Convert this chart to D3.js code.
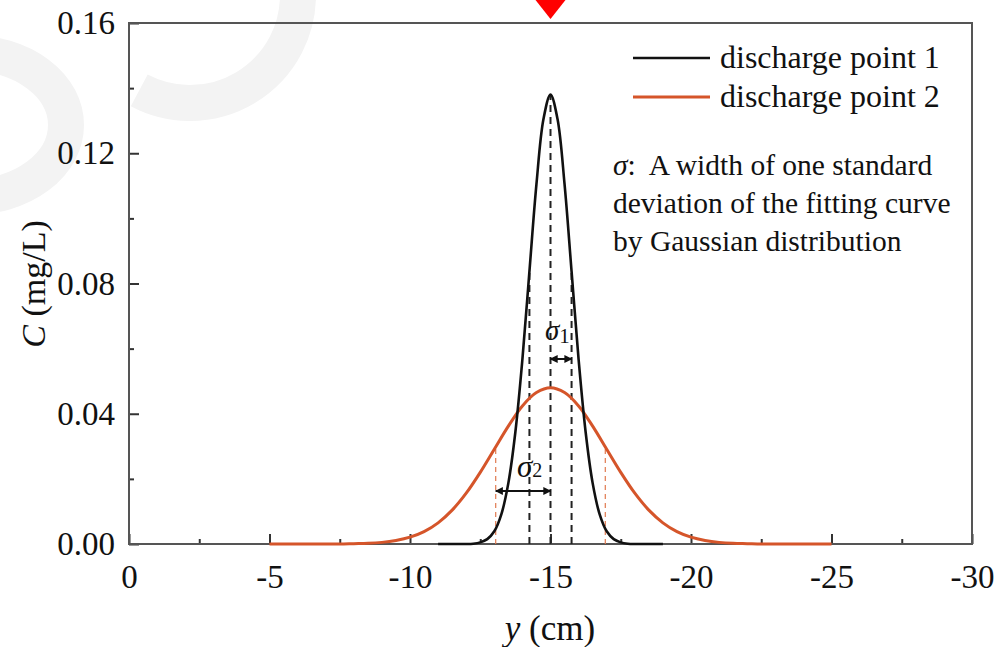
<!DOCTYPE html>
<html>
<head>
<meta charset="utf-8">
<script src="https://cdn.jsdelivr.net/npm/d3@7"></script>
<style>
  html, body { margin: 0; padding: 0; background: #fff; }
  svg { display: block; }
  text { font-family: "Liberation Serif", "Times New Roman", serif; fill: #111; }
</style>
</head>
<body>
<div id="chart"></div>
<script>
// y position (cm) and concentration (mg/L)
const yPos1 = [-11, -11.25, -11.5, -11.75, -12, -12.25, -12.5, -12.75, -13, -13.25, -13.5, -13.75, -14, -14.25, -14.5, -14.75,
  -15, -15.25, -15.5, -15.75, -16, -16.25, -16.5, -16.75, -17, -17.25, -17.5, -17.75, -18, -18.25, -18.5, -18.75, -19];
const conc1 = [0, 0, 0, 0, 0, 0.0001, 0.0005, 0.0015, 0.0039, 0.0091, 0.0187, 0.0344, 0.0567, 0.0837, 0.1105, 0.1305,
  0.138, 0.1305, 0.1105, 0.0837, 0.0567, 0.0344, 0.0187, 0.0091, 0.0039, 0.0015, 0.0005, 0.0001, 0, 0, 0, 0, 0];

const yPos2 = [-5, -5.5, -6, -6.5, -7, -7.5, -8, -8.5, -9, -9.5, -10, -10.5, -11, -11.5, -12, -12.5, -13, -13.5, -14, -14.5,
  -15, -15.5, -16, -16.5, -17, -17.5, -18, -18.5, -19, -19.5, -20, -20.5, -21, -21.5, -22, -22.5, -23, -23.5, -24, -24.5, -25];
const conc2 = [0, 0, 0, 0, 0, 0, 0.0001, 0.0002, 0.0005, 0.0011, 0.0021, 0.0038, 0.0065, 0.0104, 0.0156, 0.0220, 0.0291, 0.0362, 0.0424, 0.0465,
  0.048, 0.0465, 0.0424, 0.0362, 0.0291, 0.0220, 0.0156, 0.0104, 0.0065, 0.0038, 0.0021, 0.0011, 0.0005, 0.0002, 0.0001, 0, 0, 0, 0, 0, 0];

const centre = -15;
const sigma1 = 0.75;
const sigma2 = 1.95;

const xMajor = [0, -5, -10, -15, -20, -25, -30];
const xMinor = [-2.5, -7.5, -12.5, -17.5, -22.5, -27.5];
const yMajor = [0, 0.04, 0.08, 0.12, 0.16];
const yMinor = [0.02, 0.06, 0.10, 0.14];

const seriesNames = ["discharge point 1", "discharge point 2"];
const seriesColors = ["#111111", "#d5552a"];

const W = 1001, H = 647;
const mLeft = 129, mRight = 972, mTop = 23, mBottom = 544;

const svg = d3.select("#chart").append("svg")
  .attr("width", W).attr("height", H);

// faint watermark behind the figure
const wm = svg.append("g").attr("fill", "none").attr("stroke", "#f3f3f3").attr("stroke-width", 36);
wm.append("ellipse").attr("cx", -30).attr("cy", 125).attr("rx", 96).attr("ry", 72);
const arcP = d3.path();
arcP.arc(190, -5, 108, 0, 2.06);
wm.append("path").attr("d", arcP.toString());

const x = d3.scaleLinear().domain([0, -30]).range([mLeft, mRight]);
const y = d3.scaleLinear().domain([0, 0.16]).range([mBottom, mTop]);

// minor ticks
svg.append("g").attr("transform", `translate(0,${mBottom})`)
  .call(d3.axisBottom(x).tickValues(xMinor).tickSize(-5).tickFormat(""))
  .call(g => g.select(".domain").remove())
  .call(g => g.selectAll("line").attr("stroke", "#333").attr("stroke-width", 2));
svg.append("g").attr("transform", `translate(${mLeft},0)`)
  .call(d3.axisLeft(y).tickValues(yMinor).tickSize(-5).tickFormat(""))
  .call(g => g.select(".domain").remove())
  .call(g => g.selectAll("line").attr("stroke", "#333").attr("stroke-width", 2));

// major ticks + labels
svg.append("g").attr("transform", `translate(0,${mBottom})`)
  .call(d3.axisBottom(x).tickValues(xMajor).tickSize(-10).tickPadding(21).tickFormat(d => String(d)))
  .call(g => g.select(".domain").remove())
  .call(g => g.selectAll("line").attr("stroke", "#333").attr("stroke-width", 2))
  .call(g => g.selectAll("text").attr("font-size", 33).attr("font-family", "Liberation Serif").attr("fill", "#111"));
svg.append("g").attr("transform", `translate(${mLeft},0)`)
  .call(d3.axisLeft(y).tickValues(yMajor).tickSize(-10).tickPadding(14).tickFormat(d3.format(".2f")))
  .call(g => g.select(".domain").remove())
  .call(g => g.selectAll("line").attr("stroke", "#333").attr("stroke-width", 2))
  .call(g => g.selectAll("text").attr("font-size", 33).attr("font-family", "Liberation Serif").attr("fill", "#111"));

// frame
svg.append("rect")
  .attr("x", mLeft).attr("y", mTop)
  .attr("width", mRight - mLeft).attr("height", mBottom - mTop)
  .attr("fill", "none").attr("stroke", "#555").attr("stroke-width", 2);

const line = d3.line().x(d => x(d[0])).y(d => y(d[1])).curve(d3.curveCatmullRom.alpha(0.5));

const s1 = yPos1.map((v, i) => [v, conc1[i]]);
const s2 = yPos2.map((v, i) => [v, conc2[i]]);

// height of a curve at a given position, looked up from its points
function heightAt(xs, cs, v) {
  const i = xs.findIndex(p => p <= v);
  if (i <= 0) return cs[0];
  const t = (v - xs[i - 1]) / (xs[i] - xs[i - 1]);
  return cs[i - 1] + t * (cs[i] - cs[i - 1]);
}

// dashed sigma guides (drawn under curves)
const guides1 = [centre + sigma1, centre, centre - sigma1];
svg.append("g").selectAll("line").data(guides1).join("line")
  .attr("x1", d => x(d)).attr("x2", d => x(d))
  .attr("y1", y(0)).attr("y2", d => y(heightAt(yPos1, conc1, d)))
  .attr("stroke", "#222").attr("stroke-width", 2).attr("stroke-dasharray", "7,5");

const guides2 = [centre + sigma2, centre - sigma2];
svg.append("g").selectAll("line").data(guides2).join("line")
  .attr("x1", d => x(d)).attr("x2", d => x(d))
  .attr("y1", y(0)).attr("y2", d => y(heightAt(yPos2, conc2, d)))
  .attr("stroke", "#e07a50").attr("stroke-width", 1.2).attr("stroke-dasharray", "5,4");

svg.append("path").datum(s2)
  .attr("d", line).attr("fill", "none")
  .attr("stroke", seriesColors[1]).attr("stroke-width", 3);
svg.append("path").datum(s1)
  .attr("d", line).attr("fill", "none")
  .attr("stroke", seriesColors[0]).attr("stroke-width", 2.6);

// arrows
const defs = svg.append("defs");
defs.append("marker").attr("id", "ah").attr("viewBox", "0 0 10 10")
  .attr("refX", 9).attr("refY", 5).attr("markerWidth", 4).attr("markerHeight", 4)
  .attr("orient", "auto-start-reverse").attr("markerUnits", "strokeWidth")
  .append("path").attr("d", "M0,0 L10,5 L0,10 Z").attr("fill", "#111");

svg.append("line")
  .attr("x1", x(centre)).attr("x2", x(centre - sigma1))
  .attr("y1", 359).attr("y2", 359)
  .attr("stroke", "#111").attr("stroke-width", 2)
  .attr("marker-start", "url(#ah)").attr("marker-end", "url(#ah)");
svg.append("line")
  .attr("x1", x(centre + sigma2)).attr("x2", x(centre))
  .attr("y1", 491).attr("y2", 491)
  .attr("stroke", "#111").attr("stroke-width", 2)
  .attr("marker-start", "url(#ah)").attr("marker-end", "url(#ah)");

const sg1 = svg.append("text").attr("x", 545).attr("y", 340).attr("font-size", 29);
sg1.append("tspan").attr("font-style", "italic").text("σ");
sg1.append("tspan").attr("font-size", 21).attr("dy", 3).text("1");
const sg2 = svg.append("text").attr("x", 517).attr("y", 477).attr("font-size", 31);
sg2.append("tspan").attr("font-style", "italic").text("σ");
sg2.append("tspan").attr("font-size", 20).text("2");

// legend
const leg = svg.append("g").selectAll("g").data(seriesNames).join("g")
  .attr("transform", (d, i) => `translate(633,${58 + i * 39})`);
leg.append("line").attr("x1", 0).attr("x2", 77)
  .attr("stroke", (d, i) => seriesColors[i]).attr("stroke-width", (d, i) => i ? 3 : 2.6);
leg.append("text").attr("x", 87).attr("y", 10).attr("font-size", 32).text(d => d);

// note
const note = svg.append("g").attr("font-size", 29.5);
const n1 = note.append("text").attr("x", 613).attr("y", 175);
n1.append("tspan").attr("font-style", "italic").text("σ");
n1.append("tspan").text(":");
n1.append("tspan").attr("dx", 13).text("A width of one standard");
note.append("text").attr("x", 613).attr("y", 213).text("deviation of the fitting curve");
note.append("text").attr("x", 613).attr("y", 251).text("by Gaussian distribution");

// axis titles
const xt = svg.append("text").attr("x", 550).attr("y", 640).attr("text-anchor", "middle").attr("font-size", 35);
xt.append("tspan").attr("font-style", "italic").text("y");
xt.append("tspan").text(" (cm)");
const yt = svg.append("text").attr("transform", "translate(45,284) rotate(-90)")
  .attr("text-anchor", "middle").attr("font-size", 34);
yt.append("tspan").attr("font-style", "italic").text("C");
yt.append("tspan").text(" (mg/L)");

// red marker at the top
svg.append("path")
  .attr("d", d3.line()([[x(centre) - 15, 0], [x(centre) + 15, 0], [x(centre), 19]]) + "Z")
  .attr("fill", "#ff0000");
</script>
</body>
</html>
